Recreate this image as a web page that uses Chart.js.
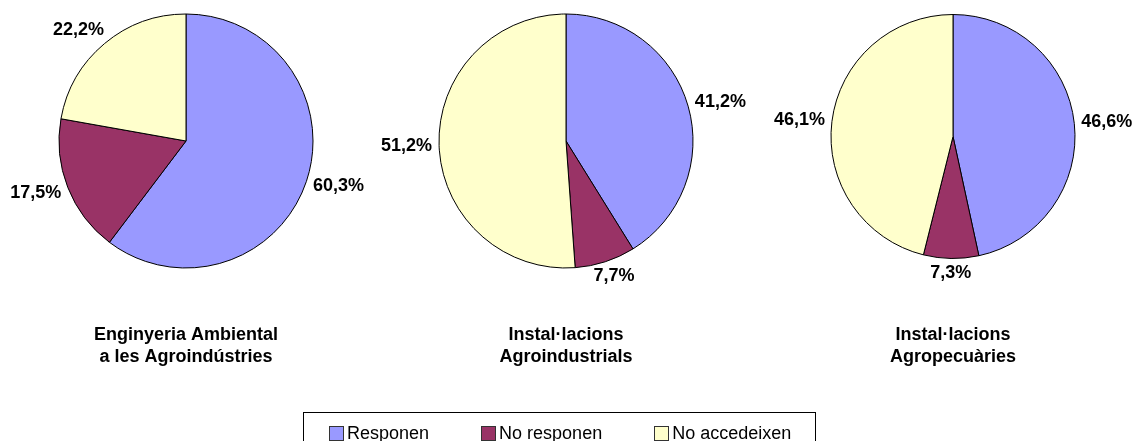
<!DOCTYPE html>
<html>
<head>
<meta charset="utf-8">
<script src="https://cdn.jsdelivr.net/npm/chart.js@4.4.0/dist/chart.umd.min.js"></script>
<style>
  body { margin: 0; background: #fff; }
  #wrap { position: relative; width: 1135px; height: 441px; overflow: hidden; font-family: "Liberation Sans", Arial, sans-serif; }
  #wrap canvas { position: absolute; left: 0; top: 0; }
  #legend { position: absolute; left: 303px; top: 412px; width: 513px; height: 40px; border: 1px solid #000; box-sizing: border-box;
            display: flex; align-items: flex-start; padding: 12px 0 0 25px; gap: 52px; font-size: 18px; color: #000; }
  .item { display: flex; align-items: center; line-height: 16px; white-space: nowrap; }
  .box { width: 13px; height: 13px; border: 1px solid #333; margin-right: 3px; }
</style>
</head>
<body>
<div id="wrap">
  <canvas id="pieA" width="1135" height="441"></canvas>
  <canvas id="pieB" width="1135" height="441"></canvas>
  <canvas id="pieC" width="1135" height="441"></canvas>
  <div id="legend"></div>
</div>
<script>
// Dades llegides del gràfic (percentatges)
const categories = ['Responen', 'No responen', 'No accedeixen'];
const colors = ['#9999ff', '#993366', '#ffffcc'];
const ambiental = [60.3, 17.5, 22.2];
const agroindustrials = [41.2, 7.7, 51.2];
const agropecuaries = [46.6, 7.3, 46.1];
const titles = [
  ['Enginyeria Ambiental', 'a les Agroindústries'],
  ['Instal·lacions', 'Agroindustrials'],
  ['Instal·lacions', 'Agropecuàries']
];

const W = 1135, H = 441;
const FONT = "bold 18px 'Liberation Sans', Arial, sans-serif";

// etiquetes fora del pastís + títol a sota
const pieText = {
  id: 'pieText',
  afterDatasetsDraw(chart, args, opts) {
    const ctx = chart.ctx;
    const meta = chart.getDatasetMeta(0);
    const values = chart.data.datasets[0].data;
    ctx.save();
    ctx.font = FONT;
    ctx.fillStyle = '#000';
    ctx.textAlign = 'center';
    ctx.textBaseline = 'middle';
    let cx = 0;
    meta.data.forEach((arc, i) => {
      const p = arc.getProps(['x', 'y', 'startAngle', 'endAngle', 'outerRadius'], true);
      cx = p.x;
      const mid = (p.startAngle + p.endAngle) / 2;
      const dx = Math.cos(mid), dy = Math.sin(mid);
      const txt = values[i].toFixed(1).replace('.', ',') + '%';
      const halfW = ctx.measureText(txt).width / 2;
      const m = Math.max(Math.abs(dx), Math.abs(dy));
      const a = p.outerRadius + 7;
      ctx.fillText(txt, p.x + dx * a + dx / m * halfW, p.y + dy * a + dy / m * 8);
    });
    opts.title.forEach((line, k) => ctx.fillText(line, cx, 335 + k * 22));
    ctx.restore();
  }
};

function makePie(id, values, title, cx, cy, r) {
  const pad = {
    left: Math.max(0, 2 * cx - W), right: Math.max(0, W - 2 * cx),
    top: Math.max(0, 2 * cy - H), bottom: Math.max(0, H - 2 * cy)
  };
  new Chart(document.getElementById(id).getContext('2d'), {
    type: 'pie',
    data: {
      labels: categories,
      datasets: [{ data: values, backgroundColor: colors, borderColor: '#000', borderWidth: 1 }]
    },
    options: {
      responsive: false,
      animation: false,
      radius: r,
      layout: { padding: pad },
      plugins: { legend: { display: false }, tooltip: { enabled: false }, pieText: { title: title } }
    },
    plugins: [pieText]
  });
}

makePie('pieA', ambiental, titles[0], 186, 141, 127);
makePie('pieB', agroindustrials, titles[1], 566, 141, 127);
makePie('pieC', agropecuaries, titles[2], 953, 136.5, 122);

const legend = document.getElementById('legend');
categories.forEach((c, i) => {
  const it = document.createElement('div');
  it.className = 'item';
  it.innerHTML = '<span class="box" style="background:' + colors[i] + '"></span><span>' + c + '</span>';
  legend.appendChild(it);
});
</script>
</body>
</html>
